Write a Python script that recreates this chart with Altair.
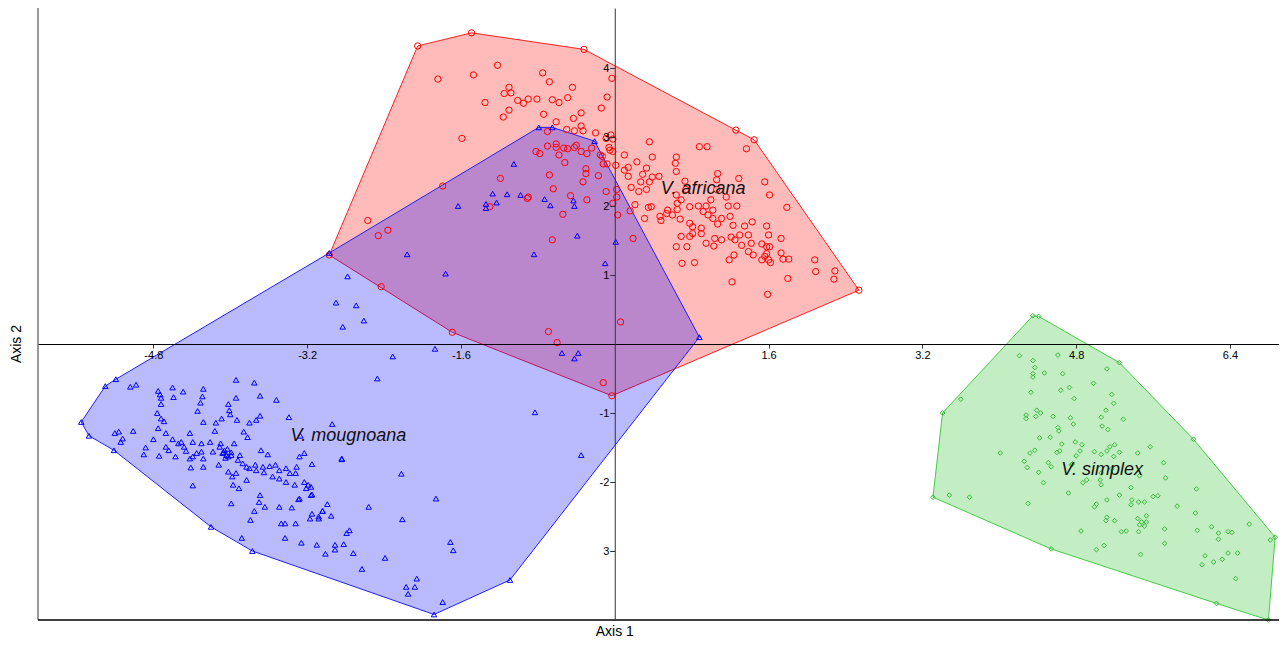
import altair as alt
import pandas as pd

# ---------------- data ----------------
red_points = [
    (-1.84,3.84),(-1.47,3.90),(-1.22,4.04),(-0.75,3.93),(-0.68,3.80),(-1.10,3.72),(-1.15,3.63),(-1.08,3.64),(-1.35,3.50),(-1.01,3.53),
    (-0.95,3.49),(-0.90,3.55),(-0.81,3.55),(-0.65,3.54),(-0.58,3.50),(-0.49,3.57),(-0.44,3.72),(-0.08,3.58),(-0.14,3.42),(-0.03,3.85),
    (-1.10,3.39),(-1.16,3.29),(-0.74,3.33),(-0.35,3.35),(-0.43,3.27),(-0.61,3.22),(-0.50,3.11),(-0.42,3.09),(-0.35,3.16),(-0.33,3.09),
    (-0.20,3.06),(-0.70,3.08),(-1.59,2.98),(-0.09,2.98),(-0.06,2.85),(-0.02,2.79),(-0.70,2.87),(-0.61,2.90),(-0.61,2.85),(-0.53,2.84),
    (-0.49,2.83),(-0.40,2.88),(-0.42,2.85),(-0.35,2.79),(-0.29,2.76),(-0.24,2.84),(-0.82,2.79),(-0.78,2.76),(-0.58,2.74),(-0.52,2.63),
    (-0.15,2.74),(-0.08,2.61),(0.01,2.59),(-0.30,2.54),(-0.30,2.47),(-0.17,2.44),(-0.68,2.45),(-1.19,2.40),(-0.33,2.35),(-0.09,2.21),
    (-0.64,2.25),(-0.46,2.15),(-0.29,2.09),(-1.79,2.29),(-0.90,2.13),(-0.04,3.03),(-0.02,2.97),(-0.05,2.81),(-0.13,2.72),(-0.12,2.61),
    (0.10,2.74),(0.23,2.64),(0.36,2.93),(0.39,2.71),(0.64,2.71),(0.63,2.62),(0.64,2.50),(0.88,2.86),(0.96,2.86),(1.37,2.83),
    (0.10,2.52),(0.14,2.56),(0.14,2.43),(0.33,2.55),(0.46,2.43),(0.29,2.46),(0.27,2.35),(0.39,2.42),(0.36,2.35),(0.33,2.24),
    (0.25,2.21),(0.17,2.27),(0.02,2.24),(0.02,2.13),(0.03,1.87),(-0.02,2.04),(0.19,1.53),(0.16,1.93),(0.21,2.02),(0.35,1.98),
    (0.38,1.99),(0.31,1.82),(0.47,1.85),(0.48,1.79),(0.55,1.94),(0.54,1.89),(0.60,1.87),(0.65,1.95),(0.68,1.81),(0.73,2.36),
    (0.74,2.24),(0.64,2.16),(0.69,2.09),(0.65,2.04),(0.78,1.99),(0.87,2.00),(0.95,2.00),(0.92,1.92),(0.97,1.87),(1.02,1.94),
    (1.07,2.47),(1.06,2.38),(1.06,2.24),(1.00,2.09),(1.16,2.13),(1.18,2.00),(1.27,2.00),(1.29,2.40),(1.56,2.35),(1.61,2.16),
    (1.79,1.98),(0.78,1.75),(0.81,1.70),(0.90,1.68),(1.02,1.82),(1.07,1.74),(1.11,1.82),(1.20,1.85),(1.23,1.72),(1.35,1.71),
    (1.43,1.77),(1.58,1.71),(1.60,1.58),(0.78,1.56),(0.81,1.60),(0.90,1.60),(0.95,1.46),(1.04,1.53),(1.03,1.42),(1.11,1.51),
    (1.21,1.55),(1.25,1.51),(1.30,1.58),(1.39,1.58),(1.32,1.43),(1.42,1.46),(1.39,1.34),(1.44,1.29),(1.53,1.45),(1.58,1.41),
    (1.61,1.41),(1.58,1.31),(1.56,1.27),(1.53,1.22),(1.60,1.22),(1.62,1.18),(1.73,1.53),(1.73,1.32),(1.75,1.23),(1.81,1.23),
    (1.24,1.29),(1.19,1.22),(0.70,1.17),(0.83,1.18),(1.22,0.90),(1.59,0.72),(1.80,0.95),(2.08,1.22),(2.09,1.05),(2.29,1.06),
    (2.28,0.94),(0.64,1.41),(0.75,1.41),(0.69,1.56),(-2.57,1.79),(-2.46,1.57),(-2.36,1.65),(-0.91,2.11),(-0.54,1.88),(-1.30,1.99),
    (-0.65,1.51),(-0.69,0.18),(-0.60,0.02),(-0.12,-0.56),(0.06,0.32),(-2.43,0.83),
]
red_hull = [(-2.05,4.32),(-1.49,4.51),(-0.32,4.27),(1.26,3.10),(1.45,2.96),(2.54,0.78),
            (-0.03,-0.75),(-1.69,0.17),(-2.97,1.29)]

blue_points = [
    (-5.04,-0.62),(-4.98,-0.59),(-4.75,-0.68),(-4.73,-0.73),(-4.72,-0.78),(-4.60,-0.63),(-4.59,-0.77),(-4.49,-0.69),(-4.28,-0.65),(-4.29,-0.76),
    (-4.31,-0.85),(-4.34,-0.97),(-3.94,-0.52),(-3.75,-0.56),(-3.94,-0.78),(-3.69,-0.75),(-3.52,-0.81),(-4.72,-0.87),(-4.76,-1.00),(-4.72,-1.08),
    (-4.69,-1.12),(-4.02,-0.87),(-4.01,-0.96),(-4.00,-1.02),(-4.09,-1.08),(-4.15,-1.14),(-4.28,-1.13),(-3.93,-1.10),(-3.80,-1.14),(-3.73,-1.10),
    (-3.69,-1.04),(-3.39,-1.06),(-4.75,-1.22),(-4.67,-1.29),(-5.01,-1.26),(-5.20,-1.29),(-5.16,-1.27),(-5.12,-1.37),(-5.14,-1.42),(-4.80,-1.38),
    (-4.88,-1.50),(-4.90,-1.60),(-4.74,-1.62),(-4.60,-1.38),(-4.67,-1.49),(-4.64,-1.54),(-4.57,-1.63),(-4.54,-1.44),(-4.51,-1.42),(-4.48,-1.49),
    (-4.46,-1.55),(-4.42,-1.29),(-4.39,-1.42),(-4.42,-1.66),(-4.39,-1.63),(-4.35,-1.58),(-4.30,-1.44),(-4.30,-1.56),(-4.28,-1.66),(-4.41,-1.79),
    (-4.28,-1.78),(-4.21,-1.42),(-4.18,-1.56),(-4.16,-1.26),(-4.10,-1.44),(-4.08,-1.58),(-4.04,-1.61),(-4.06,-1.54),(-4.02,-1.63),(-3.99,-1.61),
    (-3.96,-1.44),(-3.90,-1.61),(-3.86,-1.27),(-3.82,-1.35),(-3.92,-1.68),(-3.87,-1.73),(-3.83,-1.78),(-3.80,-1.80),(-4.12,-1.75),(-4.02,-1.85),
    (-3.98,-1.92),(-3.94,-1.87),(-3.83,-1.97),(-3.97,-2.04),(-3.91,-2.09),(-3.74,-1.75),(-3.66,-1.78),(-3.73,-1.83),(-3.68,-1.54),(-3.61,-1.60),
    (-3.65,-1.86),(-3.59,-1.77),(-3.53,-1.75),(-3.56,-1.92),(-3.49,-1.83),(-3.42,-1.80),(-3.38,-1.87),(-3.32,-1.87),(-3.31,-1.78),(-3.28,-1.63),
    (-3.23,-1.58),(-3.15,-1.74),(-3.49,-1.95),(-3.42,-2.00),(-3.33,-2.04),(-3.23,-2.00),(-3.19,-2.04),(-3.16,-2.07),(-3.21,-2.09),(-3.16,-2.19),
    (-3.28,-2.24),(-3.69,-2.19),(-3.70,-2.29),(-3.64,-2.36),(-3.49,-2.36),(-3.36,-2.37),(-3.99,-2.31),(-3.75,-2.42),(-3.79,-2.55),(-3.47,-2.60),
    (-3.43,-2.60),(-3.32,-2.60),(-3.17,-2.53),(-3.15,-2.46),(-3.08,-2.50),(-3.04,-2.42),(-2.99,-2.32),(-2.95,-2.49),(-2.84,-1.67),(-2.94,-1.16),
    (-2.79,-2.74),(-4.39,-2.05),(-3.88,-2.81),(-3.43,-2.81),(-3.27,-1.33),(-2.22,-1.88),(-1.86,-2.24),(-3.29,-2.25),(-3.15,-2.18),(-3.08,-2.53),
    (-3.04,-2.42),(-2.56,-2.36),(-2.21,-2.54),(-3.26,-2.88),(-3.10,-2.91),(-3.01,-3.04),(-2.91,-2.91),(-2.91,-2.98),(-2.82,-2.90),(-2.76,-2.70),
    (-2.72,-3.03),(-2.63,-3.26),(-2.39,-3.10),(-1.71,-2.87),(-1.68,-2.99),(-2.06,-3.40),(-2.17,-3.52),(-2.08,-3.52),(-2.15,-3.62),(-1.79,-3.74),
    (-2.31,-0.18),(-1.87,-0.07),(-2.47,-0.50),(-0.83,-0.99),(-0.55,-0.13),(-0.38,-0.13),(-0.42,-0.21),(-0.35,-1.61),(-2.84,-1.66),(-1.27,2.18),
    (-1.12,2.17),(-0.98,2.16),(-1.63,2.00),(-1.34,2.03),(-1.34,1.97),(-1.23,2.05),(-0.73,2.10),(-0.67,2.01),(-0.43,2.08),(-0.42,2.00),
    (-0.39,1.57),(0.01,1.48),(-0.10,1.17),(-0.84,1.30),(-2.16,1.30),(-1.76,1.02),(-2.78,0.98),(-2.90,0.60),(-2.69,0.56),(-2.61,0.34),
    (-2.83,0.25),(-1.05,2.61),(-4.11,-1.49),(-4.07,-1.57),(-4.03,-1.52),(-3.99,-1.57),(-4.05,-1.65),
]
blue_hull = [(-0.79,3.14),(-0.65,3.14),(-0.21,2.94),(0.88,0.10),(-1.09,-3.42),(-1.88,-3.92),
             (-3.77,-3.00),(-4.20,-2.65),(-5.21,-1.54),(-5.47,-1.33),(-5.55,-1.13),(-5.30,-0.61),
             (-5.19,-0.51),(-2.97,1.32)]

green_points = [
    (4.21,-0.17),(4.35,-0.24),(4.61,-0.16),(4.37,-0.34),(4.47,-0.42),(4.35,-0.43),(4.35,-0.48),(4.66,-0.43),(5.12,-0.36),(4.98,-0.57),
    (4.73,-0.63),(4.64,-0.67),(4.33,-0.70),(5.17,-0.73),(4.78,-0.79),(3.60,-0.80),(5.19,-0.86),(4.39,-0.96),(4.43,-1.00),(5.11,-0.96),
    (4.28,-1.03),(4.28,-1.08),(4.38,-1.05),(4.56,-1.05),(4.74,-1.07),(5.06,-1.06),(5.29,-1.09),(4.77,-1.16),(4.61,-1.21),(4.62,-1.26),
    (5.07,-1.19),(5.13,-1.24),(4.42,-1.36),(4.53,-1.35),(4.79,-1.42),(4.86,-1.46),(4.65,-1.45),(5.15,-1.49),(5.20,-1.46),(5.57,-1.49),
    (4.01,-1.58),(4.37,-1.54),(4.32,-1.58),(4.60,-1.57),(4.63,-1.55),(4.80,-1.62),(4.84,-1.55),(4.99,-1.56),(5.06,-1.60),(5.12,-1.55),
    (5.25,-1.57),(5.19,-1.63),(5.44,-1.58),(4.26,-1.70),(4.51,-1.72),(4.76,-1.74),(5.71,-1.72),(4.29,-1.79),(4.41,-1.86),(4.54,-1.78),
    (4.46,-2.01),(4.75,-1.75),(4.87,-2.01),(4.91,-1.97),(5.06,-2.04),(5.05,-1.97),(5.06,-1.87),(5.17,-1.81),(5.46,-1.91),(5.73,-1.94),
    (5.37,-2.08),(6.05,-2.10),(3.48,-2.19),(3.69,-2.22),(4.30,-2.31),(4.72,-2.16),(4.99,-2.36),(5.01,-2.32),(5.12,-2.26),(5.25,-2.19),
    (5.37,-2.33),(5.38,-2.26),(5.45,-2.29),(5.51,-2.29),(5.60,-2.21),(5.65,-2.20),(5.85,-2.35),(6.04,-2.45),(5.11,-2.56),(5.20,-2.56),
    (5.12,-2.51),(5.44,-2.53),(5.48,-2.58),(5.53,-2.58),(5.53,-2.49),(5.46,-2.62),(5.51,-2.64),(4.85,-2.71),(5.27,-2.72),(5.32,-2.71),
    (5.45,-2.72),(5.72,-2.68),(6.06,-2.70),(6.21,-2.65),(6.28,-2.74),(6.28,-2.83),(6.38,-2.72),(6.42,-2.73),(6.60,-2.61),(5.72,-2.89),
    (5.01,-2.98),(5.09,-2.92),(5.47,-3.05),(6.14,-3.07),(6.11,-3.20),(6.23,-3.16),(6.32,-3.12),(6.38,-3.03),(6.48,-3.03),(6.46,-3.40),
    (6.82,-2.84),
]
green_hull = [(3.31,-2.22),(3.41,-1.00),(4.35,0.41),(4.41,0.40),(5.25,-0.27),(6.02,-1.38),
              (6.87,-2.80),(6.80,-4.00),(6.26,-3.76),(4.54,-2.97)]

species_names = ["V. africana", "V. mougnoana", "V. simplex"]
label_x = [0.92, -2.77, 5.07]
label_y = [2.24, -1.33, -1.83]

x_ticks = [-4.8, -3.2, -1.6, 1.6, 3.2, 4.8, 6.4]
y_ticks = [-3, -2, -1, 1, 2, 3, 4]
x_domain = [-6.0, 6.91]
y_domain = [-4.0, 4.87]

# ---------------- layout ----------------
W, H = 1241, 612
X0 = W * (0 - x_domain[0]) / (x_domain[1] - x_domain[0])   # pixel of x = 0
Y0 = H * (y_domain[1] - 0) / (y_domain[1] - y_domain[0])   # pixel of y = 0
FONT = "Liberation Sans"

xs = alt.Scale(domain=x_domain, nice=False, zero=False)
ys = alt.Scale(domain=y_domain, nice=False, zero=False)

x_axis = alt.Axis(values=x_ticks, orient="bottom", offset=-(H - Y0), title=None, grid=False,
                  domain=True, domainColor="#000000", domainWidth=1.2,
                  ticks=True, tickSize=4, tickColor="#333333", tickWidth=1,
                  labelFont=FONT, labelFontSize=11, labelColor="#000000", labelPadding=1,
                  labelFlush=False, labelOverlap=False, zindex=2,
                  labelExpr="datum.value < 0 ? '-' + format(-datum.value, '.1f') : format(datum.value, '.1f')")
y_axis = alt.Axis(values=y_ticks, orient="left", offset=-X0, title=None, grid=False,
                  domain=True, domainColor="#333333", domainWidth=1,
                  ticks=True, tickSize=5, tickColor="#333333", tickWidth=1,
                  labelFont=FONT, labelFontSize=11, labelColor="#000000", labelPadding=1,
                  labelFlush=False, labelOverlap=False, zindex=2,
                  labelExpr="datum.value == -3 ? '3' : (datum.value < 0 ? '-' + format(-datum.value, 'd') : format(datum.value, 'd'))")

X = alt.X("x:Q", scale=xs, axis=x_axis)
Y = alt.Y("y:Q", scale=ys, axis=y_axis)


def hull_df(pts):
    rows = [{"x": p[0], "y": p[1], "i": k} for k, p in enumerate(pts)]
    rows.append({"x": pts[0][0], "y": pts[0][1], "i": len(pts)})
    return pd.DataFrame(rows)


def pts_df(pts, hull):
    allp = list(pts) + list(hull)
    return pd.DataFrame({"x": [p[0] for p in allp], "y": [p[1] for p in allp]})


def hull_layer(pts, color, line):
    return alt.Chart(hull_df(pts)).mark_line(
        fill=color, fillOpacity=0.27, stroke=line, strokeWidth=1, interpolate="linear"
    ).encode(x=X, y=Y, order="i:Q")


def point_layer(df, shape, color, size):
    return alt.Chart(df).mark_point(
        shape=shape, filled=False, color=color, size=size, strokeWidth=1, opacity=1
    ).encode(x=X, y=Y)


red_h = hull_layer(red_hull, "#FF0000", "#FF2020")
blue_h = hull_layer(blue_hull, "#0000FF", "#2020FF")
green_h = hull_layer(green_hull, "#22BB22", "#44CC44")

red_p = point_layer(pts_df(red_points, red_hull), "circle", "#FF0000", 40)
blue_p = point_layer(pts_df(blue_points, blue_hull), "triangle-up", "#0000FF", 30)
green_p = point_layer(pts_df(green_points, green_hull), "diamond", "#33BB33", 22)

labels = alt.Chart(pd.DataFrame({"x": label_x, "y": label_y, "t": species_names})).mark_text(
    font=FONT, fontSize=18, fontStyle="italic", color="#111111", align="center", baseline="middle"
).encode(x=X, y=Y, text="t:N")

frame_left = alt.Chart(pd.DataFrame({"k": [0]})).mark_rule(color="#999999", strokeWidth=2).encode(
    x=alt.value(0), y=alt.value(0), y2=alt.value(H))
frame_bottom = alt.Chart(pd.DataFrame({"k": [0]})).mark_rule(color="#000000", strokeWidth=1.5).encode(
    x=alt.value(0), x2=alt.value(W), y=alt.value(H))

title_x = alt.Chart(pd.DataFrame({"t": ["Axis 1"]})).mark_text(
    font=FONT, fontSize=14, color="#000000", align="center", baseline="middle"
).encode(x=alt.value(X0), y=alt.value(H + 12), text="t:N")
title_y = alt.Chart(pd.DataFrame({"t": ["Axis 2"]})).mark_text(
    font=FONT, fontSize=14, color="#000000", align="center", baseline="middle", angle=270
).encode(x=alt.value(-21), y=alt.value(Y0), text="t:N")

chart = alt.layer(
    red_h, blue_h, green_h, red_p, blue_p, green_p, labels,
    frame_left, frame_bottom, title_x, title_y
).properties(
    width=W, height=H,
    autosize=alt.AutoSizeParams(type="none"),
    padding={"left": 30, "top": 0, "right": 0, "bottom": 20},
).configure(
    background="white",
    view=alt.ViewConfig(stroke="transparent", strokeWidth=0),
)

chart.save("out.html", embed_options={"renderer": "svg", "actions": False})
